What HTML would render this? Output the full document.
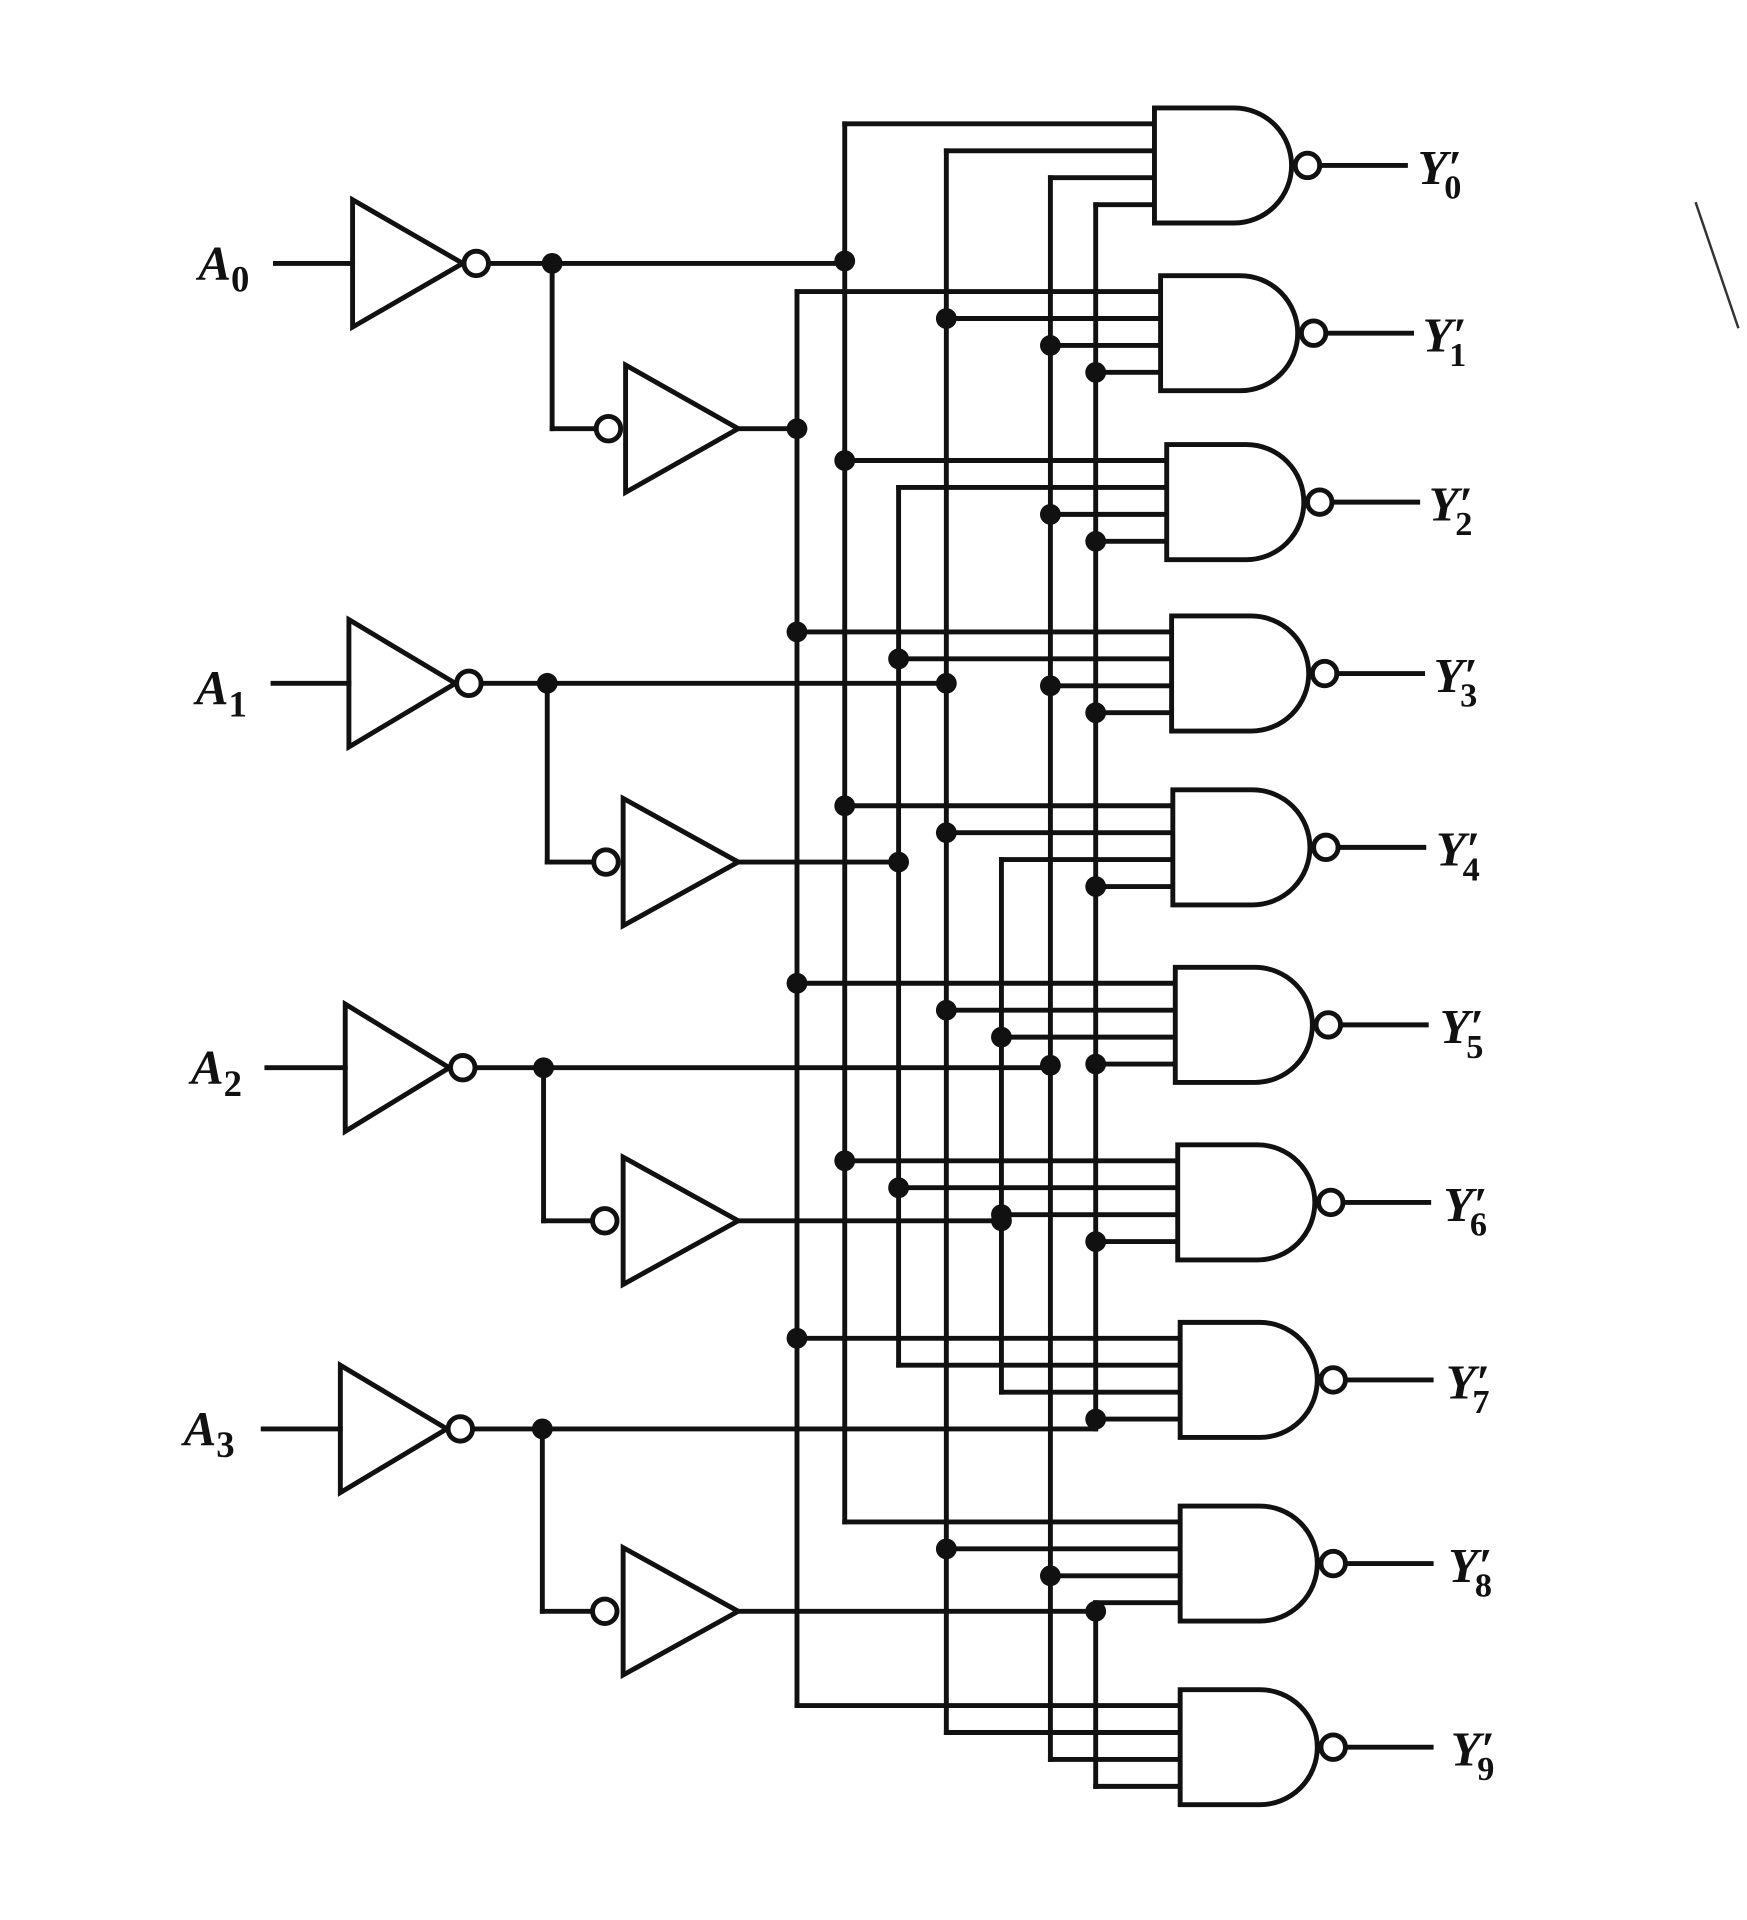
<!DOCTYPE html>
<html><head><meta charset="utf-8">
<style>
html,body{margin:0;padding:0;background:#fff;}
svg{display:block;}
text{font-family:"Liberation Serif",serif;font-style:italic;font-weight:bold;fill:#111;}
</style></head>
<body>
<svg id="s" width="1747" height="1920" viewBox="0 0 1427 1568" xmlns="http://www.w3.org/2000/svg">
<rect width="1427" height="1568" fill="#fff"/>
<g id="g" stroke="#111" stroke-width="4" fill="none" stroke-linecap="square"></g>
<g id="d" fill="#111"></g>
<line x1="1385" y1="165" x2="1420" y2="268" stroke="#333" stroke-width="2"/>
<text x="162" y="228" font-size="40">A<tspan font-size="30" dy="10" font-style="normal">0</tspan></text>
<text x="160" y="575" font-size="40">A<tspan font-size="30" dy="10" font-style="normal">1</tspan></text>
<text x="156" y="885" font-size="40">A<tspan font-size="30" dy="10" font-style="normal">2</tspan></text>
<text x="150" y="1180" font-size="40">A<tspan font-size="30" dy="10" font-style="normal">3</tspan></text>
<text x="1158" y="150" font-size="40">Y′<tspan font-size="28" dx="-14" dy="12" font-style="normal">0</tspan></text>
<text x="1162" y="287" font-size="40">Y′<tspan font-size="28" dx="-14" dy="12" font-style="normal">1</tspan></text>
<text x="1167" y="425" font-size="40">Y′<tspan font-size="28" dx="-14" dy="12" font-style="normal">2</tspan></text>
<text x="1171" y="565" font-size="40">Y′<tspan font-size="28" dx="-14" dy="12" font-style="normal">3</tspan></text>
<text x="1173" y="707" font-size="40">Y′<tspan font-size="28" dx="-14" dy="12" font-style="normal">4</tspan></text>
<text x="1176" y="852" font-size="40">Y′<tspan font-size="28" dx="-14" dy="12" font-style="normal">5</tspan></text>
<text x="1179" y="997" font-size="40">Y′<tspan font-size="28" dx="-14" dy="12" font-style="normal">6</tspan></text>
<text x="1181" y="1142" font-size="40">Y′<tspan font-size="28" dx="-14" dy="12" font-style="normal">7</tspan></text>
<text x="1183" y="1292" font-size="40">Y′<tspan font-size="28" dx="-14" dy="12" font-style="normal">8</tspan></text>
<text x="1185" y="1442" font-size="40">Y′<tspan font-size="28" dx="-14" dy="12" font-style="normal">9</tspan></text>
</svg>
<script>
var G=document.getElementById('g'),D=document.getElementById('d');
function el(p,t,a){var e=document.createElementNS('http://www.w3.org/2000/svg',t);for(var k in a)e.setAttribute(k,a[k]);p.appendChild(e);return e;}
function L(x1,y1,x2,y2){el(G,'line',{x1:x1,y1:y1,x2:x2,y2:y2});}
function dot(x,y){el(D,'circle',{cx:x,cy:y,r:8.5});}
function bub(x,y){el(G,'circle',{cx:x,cy:y,r:10,fill:'#fff'});}
// first inverters: [inputLineStartX, triLeft, triTip, cy, branchX, lineEndX]
var inv1=[[225,288,378,215],[223,285,372,558],[218,282,367,872],[215,278,365,1167]];
var inv2=[[497,511,603,350],[495,509,603,704],[494,509,603,997],[494,509,603,1316]];
var brX=[451,447,444,443];
var comp=[690,773,858,895], tru=[651,734,818,895];
var feedC=[213,558,870,1167], feedT=[350,704,997,1316];
for(var j=0;j<4;j++){
 var a=inv1[j];
 L(a[0],a[3],a[1],a[3]);
 el(G,'polygon',{points:a[1]+','+(a[3]-52)+' '+a[2]+','+a[3]+' '+a[1]+','+(a[3]+52)});
 bub(a[2]+11,a[3]);
 L(a[2]+21,a[3],comp[j],a[3]);
 dot(brX[j],a[3]);
 var b=inv2[j];
 L(brX[j],a[3],brX[j],b[3]);L(brX[j],b[3],b[0]-10,b[3]);
 bub(b[0],b[3]);
 el(G,'polygon',{points:b[1]+','+(b[3]-52)+' '+b[2]+','+b[3]+' '+b[1]+','+(b[3]+52)});
 L(b[2],b[3],tru[j],b[3]);
}
var cy=[135,272,410,550,692,837,982,1127,1277,1427];
var gl=[943,948,953,957,958,960,962,964,964,964];
var off=[-34,-12,10,32];
var buses={};
function addB(k,x,y){if(!buses[k])buses[k]={x:x,ys:[]};buses[k].ys.push(y);}
for(var j=0;j<4;j++){addB('c'+j,comp[j],feedC[j]);addB('t'+j,tru[j],feedT[j]);}
for(var i=0;i<10;i++){
 var Lx=gl[i],c=cy[i];
 for(var j=0;j<4;j++){
  var bit=(i>>j)&1;var k=(bit?'t':'c')+j;var x=bit?tru[j]:comp[j];
  var y=c+off[j];
  L(x,y,Lx,y);addB(k,x,y);
 }
 el(G,'path',{d:'M'+Lx+','+(c-47)+' H'+(Lx+65)+' A47,47 0 0 1 '+(Lx+65)+','+(c+47)+' H'+Lx+' Z',fill:'#fff'});
 bub(Lx+125,c);
 L(Lx+135,c,Lx+205,c);
}
for(var k in buses){var b=buses[k];var mn=Math.min.apply(null,b.ys),mx=Math.max.apply(null,b.ys);
 L(b.x,mn,b.x,mx);
 b.ys.forEach(function(y){if(y>mn&&y<mx)dot(b.x,y);});
}
</script>
</body></html>
